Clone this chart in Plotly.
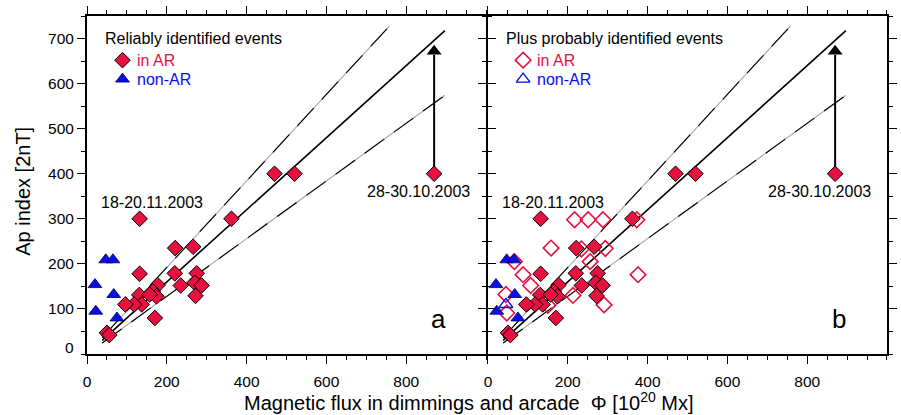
import plotly.graph_objects as go

# ---------------- data ----------------
# reliably identified events in active regions (filled diamonds)
ar_flux = [470, 520, 870, 362, 132, 221, 266, 132, 220, 275, 235, 270, 287, 272,
           177, 165, 174, 131, 157, 137, 118, 96, 170, 50, 56]
ar_ap = [400, 400, 400, 300, 300, 235, 238, 178, 179, 179, 152, 158, 152, 129,
         153, 139, 128, 131, 132, 110, 110, 110, 80, 47, 42]

# reliably identified non-AR events (filled triangles)
nonar_flux = [47, 65, 20, 67, 22, 75]
nonar_ap = [209, 209, 154, 132, 95, 80]

# probably identified events in AR (open diamonds, panel b)
prob_ar_flux = [217, 251, 288, 373, 158, 234, 294, 256, 66, 88, 376, 107, 45, 213, 291, 47, 150]
prob_ar_ap = [298, 298, 298, 298, 235, 233, 234, 205, 205, 176, 176, 152, 132, 130, 109, 91, 108]

# probably identified non-AR events (open triangles, panel b)
prob_nonar_flux = [45]
prob_nonar_ap = [110]

# 28-30.10.2003 event: corrected Ap value (arrow)
arrow_flux = [870]
arrow_ap_from = [400]
arrow_ap_to = [672]

# fit lines Ap = k * Phi
fit_slopes = [0.96, 0.80, 0.64]
fit_x0 = [38, 38, 38]
fit_x1 = [758, 897, 897]

x_ticks = [0, 200, 400, 600, 800]
y_ticks = [100, 200, 300, 400, 500, 600, 700]

RED = "#e8103f"
BLUE = "#0b0bf0"
FONT = "Liberation Sans, Arial, Helvetica, sans-serif"

fig = go.Figure()


def add_common(xa, ya, open_markers):
    # fit lines
    for k, a, b in zip(fit_slopes, fit_x0, fit_x1):
        xs = [a, b]
        ys = [k * a, k * b]
        if k == fit_slopes[1]:
            fig.add_trace(go.Scatter(x=xs, y=ys, mode="lines", xaxis=xa, yaxis=ya,
                                     line=dict(color="black", width=1.6), hoverinfo="skip"))
        else:
            fig.add_trace(go.Scatter(x=xs, y=ys, mode="lines", xaxis=xa, yaxis=ya,
                                     line=dict(color="#a8a8a8", width=1.1), hoverinfo="skip"))
            fig.add_trace(go.Scatter(x=xs, y=ys, mode="lines", xaxis=xa, yaxis=ya,
                                     line=dict(color="black", width=1.1, dash="24px,12px"),
                                     hoverinfo="skip"))
    # arrow
    fig.add_trace(go.Scatter(x=arrow_flux * 2, y=[arrow_ap_from[0], arrow_ap_to[0] - 8],
                             mode="lines", xaxis=xa, yaxis=ya,
                             line=dict(color="black", width=2), hoverinfo="skip"))
    fig.add_trace(go.Scatter(x=arrow_flux, y=arrow_ap_to, mode="markers", xaxis=xa, yaxis=ya,
                             marker=dict(symbol="triangle-up", size=13, color="black",
                                         line=dict(width=0)), hoverinfo="skip"))
    if open_markers:
        fig.add_trace(go.Scatter(x=prob_ar_flux, y=prob_ar_ap, mode="markers", xaxis=xa, yaxis=ya,
                                 marker=dict(symbol="diamond-open", size=12, color=RED,
                                             line=dict(width=1.6, color=RED))))
        fig.add_trace(go.Scatter(x=prob_nonar_flux, y=prob_nonar_ap, mode="markers", xaxis=xa, yaxis=ya,
                                 marker=dict(symbol="triangle-up-open", size=12, color=BLUE,
                                             line=dict(width=1.4, color=BLUE))))
    fig.add_trace(go.Scatter(x=nonar_flux, y=nonar_ap, mode="markers", xaxis=xa, yaxis=ya,
                             marker=dict(symbol="triangle-up", size=12, color=BLUE,
                                         line=dict(width=0.8, color="#000050"))))
    fig.add_trace(go.Scatter(x=ar_flux, y=ar_ap, mode="markers", xaxis=xa, yaxis=ya,
                             marker=dict(symbol="diamond", size=12, color=RED,
                                         line=dict(width=1, color="black"))))


add_common("x", "y", False)
add_common("x2", "y2", True)

# legend keys
fig.add_trace(go.Scatter(x=[89], y=[652], mode="markers", xaxis="x", yaxis="y",
                         marker=dict(symbol="diamond", size=12, color=RED, line=dict(width=1, color="black"))))
fig.add_trace(go.Scatter(x=[89], y=[610], mode="markers", xaxis="x", yaxis="y",
                         marker=dict(symbol="triangle-up", size=12, color=BLUE, line=dict(width=0.8, color="#000050"))))
fig.add_trace(go.Scatter(x=[88], y=[652], mode="markers", xaxis="x2", yaxis="y2",
                         marker=dict(symbol="diamond-open", size=12, color=RED, line=dict(width=1.6, color=RED))))
fig.add_trace(go.Scatter(x=[88], y=[610], mode="markers", xaxis="x2", yaxis="y2",
                         marker=dict(symbol="triangle-up-open", size=12, color=BLUE, line=dict(width=1.4, color=BLUE))))

axis_common = dict(
    showline=True, linecolor="black", linewidth=2, mirror="allticks",
    ticks="outside", ticklen=8, tickwidth=1.3, tickcolor="black",
    showgrid=False, zeroline=False,
    tickfont=dict(family=FONT, size=15.5, color="black"),
)

xa = dict(axis_common, range=[0, 1000], tickvals=x_ticks, ticklabelstandoff=4,
          minor=dict(dtick=50, tick0=0, ticks="outside", ticklen=4, tickwidth=1.1, tickcolor="black"))
ya = dict(axis_common, range=[0, 750], tickvals=y_ticks,
          minor=dict(dtick=50, tick0=0, ticks="outside", ticklen=4, tickwidth=1.1, tickcolor="black"))

ML, MR, MT, MB = 87, 4, 16, 61
plot_w = 901 - ML - MR
plot_h = 415 - MT - MB
gap = 1.0 / plot_w  # axis lines sit outside the plot area; overlap them exactly

fig.update_layout(
    width=901, height=415,
    margin=dict(l=ML, r=MR, t=MT, b=MB),
    paper_bgcolor="white", plot_bgcolor="white",
    showlegend=False,
    xaxis=dict(xa, domain=[0, 0.5 - gap], anchor="y"),
    xaxis2=dict(xa, domain=[0.5 + gap, 1], anchor="y2"),
    yaxis=dict(ya, anchor="x"),
    yaxis2=dict(ya, anchor="x2", showticklabels=False),
    font=dict(family=FONT, color="black"),
)


def A(text, x, y, xref, yref, size=16, color="black", xanchor="left", yanchor="middle", **kw):
    fig.add_annotation(text=text, x=x, y=y, xref=xref, yref=yref, showarrow=False,
                       font=dict(family=FONT, size=size, color=color),
                       xanchor=xanchor, yanchor=yanchor, **kw)


def px_x(p):
    return (p - ML) / plot_w


def px_y(p):
    return (415 - MB - p) / plot_h


# legends
A("Reliably identified events", 41, 701, "x", "y")
A("in AR", 120, 652, "x", "y", color=RED)
A("non-AR", 120, 610, "x", "y", color=BLUE)
A("Plus probably identified events", 41, 701, "x2", "y2")
A("in AR", 119, 652, "x2", "y2", color=RED)
A("non-AR", 119, 610, "x2", "y2", color=BLUE)
# event labels
for xr, yr in (("x", "y"), ("x2", "y2")):
    A("18-20.11.2003", 163, 336, xr, yr, xanchor="center")
    A("28-30.10.2003", 832, 361, xr, yr, xanchor="center")
A("a", 880, 78, "x", "y", size=26, xanchor="center")
A("b", 880, 78, "x2", "y2", size=26, xanchor="center")
# y zero label (raised, as in reference)
A("0", px_x(76), px_y(347), "paper", "paper", size=15.5, xanchor="right")
# axis titles
A("Ap index [2nT]", px_x(22), px_y(191), "paper", "paper", size=20, xanchor="center", textangle=-90)
A("Magnetic flux in dimmings and arcade \u00a0\u03a6 [10<sup>20</sup> Mx]",
  px_x(474), px_y(401), "paper", "paper", size=20, xanchor="center")

fig.write_html("out.html", config={"displayModeBar": False},
               post_script="document.body.style.margin='0px';")
